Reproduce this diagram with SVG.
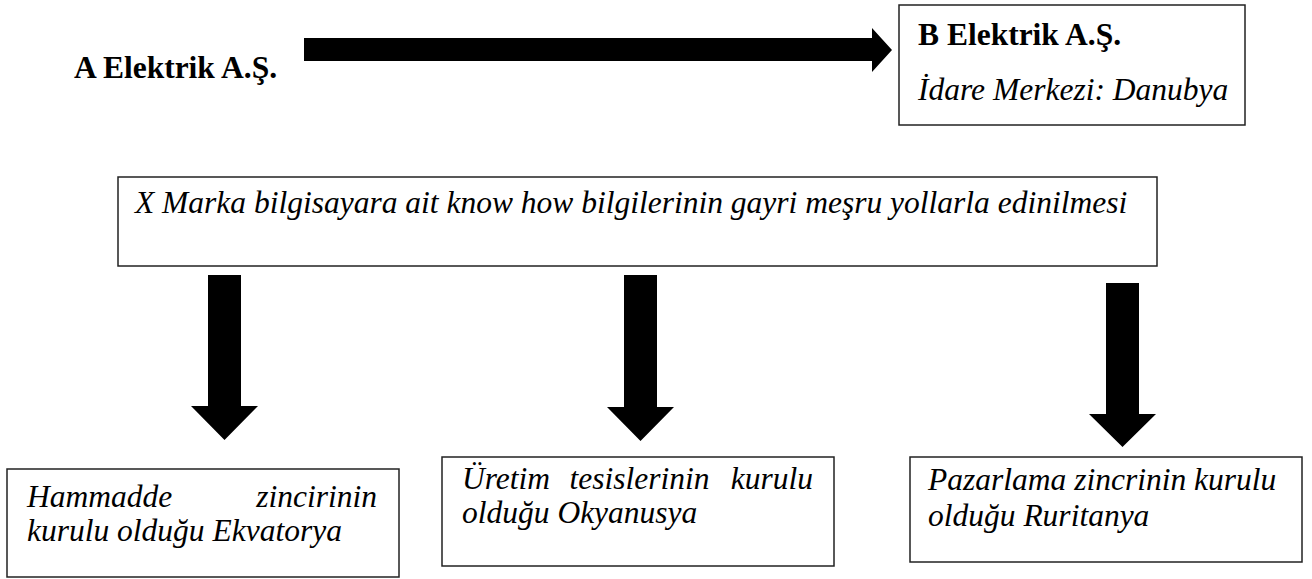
<svg xmlns="http://www.w3.org/2000/svg" width="1312" height="579" viewBox="0 0 1312 579">
<style>
.box{fill:#fff;stroke:#222;stroke-width:1.5}
.arr{fill:#000}
.t{font-family:"Liberation Serif","Times New Roman",serif;font-size:31.5px;fill:#000}
.b{font-weight:bold}
.i{font-style:italic}
</style>
<rect width="1312" height="579" fill="#fff"/>
<g id="connectors">
<polygon class="arr" points="304,38 872,38 872,28 892,50 872,72 872,61 304,61"/>
<polygon class="arr" points="208,275 241,275 241,406 258,406 224.5,440 191,406 208,406"/>
<polygon class="arr" points="624,275 657,275 657,407 674,407 640.5,441 607,407 624,407"/>
<polygon class="arr" points="1106,283 1139,283 1139,414 1156,414 1122.5,447 1089,414 1106,414"/>
</g>
<g id="nodeA">
<text class="t b" x="74" y="78">A Elektrik A.Ş.</text>
</g>
<g id="nodeB">
<rect class="box" x="899" y="5" width="346" height="120"/>
<text class="t b" x="918" y="45">B Elektrik A.Ş.</text>
<text class="t i" x="918" y="100">İdare Merkezi: Danubya</text>
</g>
<g id="nodeX">
<rect class="box" x="118" y="177" width="1039" height="89"/>
<text class="t i" x="135" y="213">X Marka bilgisayara ait know how bilgilerinin gayri meşru yollarla edinilmesi</text>
</g>
<g id="nodeEkvatorya">
<rect class="box" x="7" y="469" width="392" height="108"/>
<text class="t i" x="27" y="507">Hammadde</text>
<text class="t i" x="377" y="507" text-anchor="end">zincirinin</text>
<text class="t i" x="27" y="541">kurulu olduğu Ekvatorya</text>
</g>
<g id="nodeOkyanusya">
<rect class="box" x="442" y="457" width="392" height="109"/>
<text class="t i" x="462" y="489">Üretim</text>
<text class="t i" x="639.5" y="489" text-anchor="middle">tesislerinin</text>
<text class="t i" x="813" y="489" text-anchor="end">kurulu</text>
<text class="t i" x="462" y="523">olduğu Okyanusya</text>
</g>
<g id="nodeRuritanya">
<rect class="box" x="910" y="457" width="392" height="105"/>
<text class="t i" x="928" y="490">Pazarlama zincrinin kurulu</text>
<text class="t i" x="928" y="526">olduğu Ruritanya</text>
</g>
</svg>
